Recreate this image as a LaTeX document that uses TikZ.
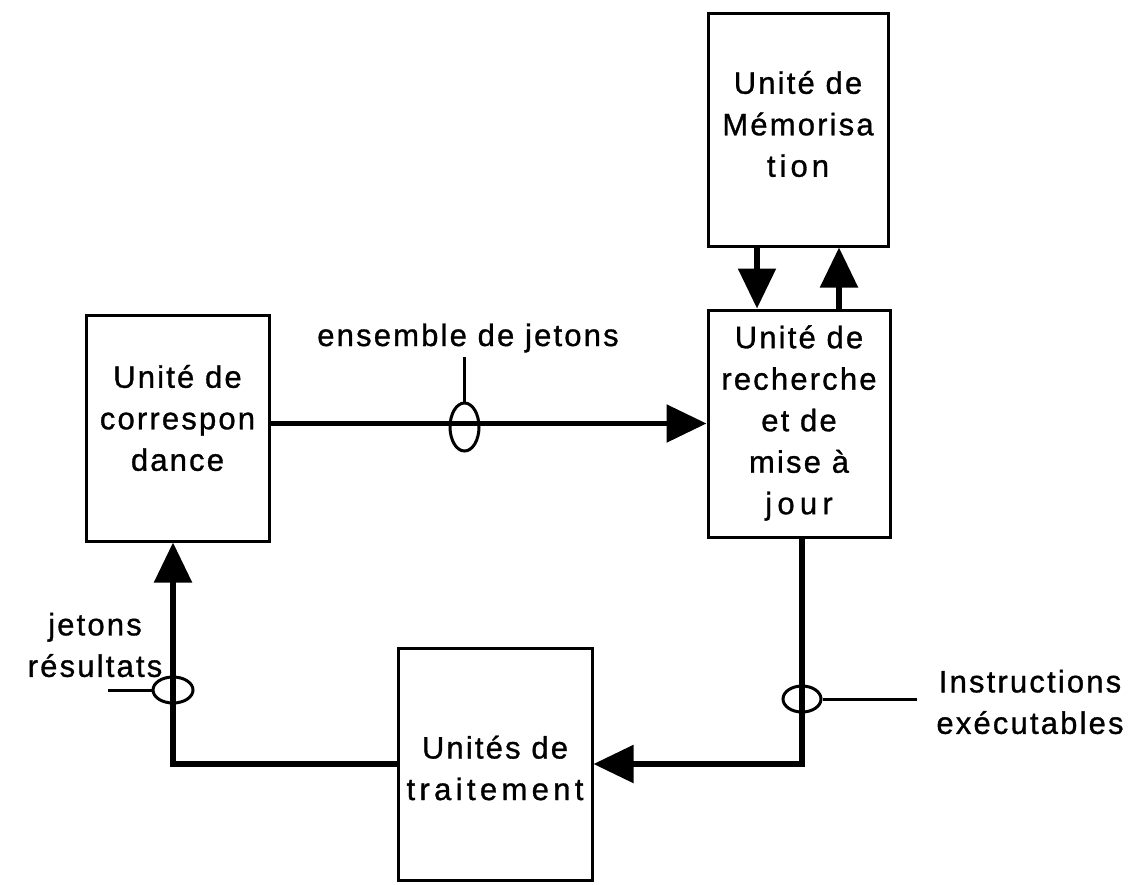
\documentclass[tikz,border=0pt]{standalone}
\usepackage{fontspec}
\setmainfont{Liberation Sans}[LetterSpace=7,FakeBold=1]
\usetikzlibrary{arrows.meta,shapes.geometric}
% wider letter spacing for short trailing lines
\newcommand{\spaced}[2]{{\addfontfeature{LetterSpace=#1}#2}}
\begin{document}
\begin{tikzpicture}[x=1pt,y=-1pt,
  box/.style={draw, line width=3pt, inner sep=0pt},
  lbl/.style={font=\fontsize{31}{41.5}\selectfont, align=center, inner sep=0pt},
  flow/.style={line width=5.5pt, -{Triangle[length=40pt,width=37pt]}},
  ring/.style={draw, ellipse, line width=3pt, inner sep=0pt},
  tick/.style={line width=3pt}]

\fill[white] (0,0) rectangle (1131,884);
\useasboundingbox (0,0) rectangle (1131,884);

% units
\node[box, minimum width=180pt, minimum height=233pt] (mem)   at (798,129.5) {};
\node[box, minimum width=182pt, minimum height=227pt] (rech)  at (799,423.5) {};
\node[box, minimum width=183pt, minimum height=226pt] (corr)  at (177.5,428) {};
\node[box, minimum width=194pt, minimum height=232pt] (trait) at (495,764) {};

% unit names
\node[lbl] (memtxt)   at (798,124)   {Unité de\\Mémorisa\\\spaced{13}{tion}};
\node[lbl] (rechtxt)  at (799,423)   {Unité de\\recherche\\et de\\mise à\\\spaced{17}{jour}};
\node[lbl] (corrtxt)  at (177.5,418) {Unité de\\correspon\\dance};
\node[lbl] (traittxt) at (495,768)   {Unités de\\\spaced{14}{traitement}};

% data flow
\draw[flow] (corr.east |- rech.west) -- (rech.west);
\draw[flow] ([xshift=-41pt]mem.south) -- ([xshift=-42pt]rech.north);
\draw[flow] ([xshift=40pt]rech.north) -- ([xshift=40pt]rech.north |- mem.south);
\draw[flow] ([xshift=3pt]rech.south) |- (trait.east);
\draw[flow] (trait.west) -| ([xshift=-4.5pt]corr.south);

% bus markers and their labels
\node[ring, minimum width=29pt, minimum height=48pt] (r1) at (464.5,427) {};
\coordinate (t1) at (464.5,357);
\draw[tick] (r1.north) -- (t1);
\node[lbl, anchor=base] (ens) at (468,346) {ensemble de jetons};

\node[ring, minimum width=38pt, minimum height=26pt] (r2) at (802,699) {};
\coordinate (t2) at (917,699);
\draw[tick] (r2.east) -- (t2);
\node[lbl] (instr) at (1030,702) {Instructions\\exécutables};

\node[ring, minimum width=40pt, minimum height=26pt] (r3) at (173,690) {};
\coordinate (t3) at (108,690);
\draw[tick] (r3.west) -- (t3);
\node[lbl] (jres) at (95,645) {jetons\\résultats};

\end{tikzpicture}
\end{document}
